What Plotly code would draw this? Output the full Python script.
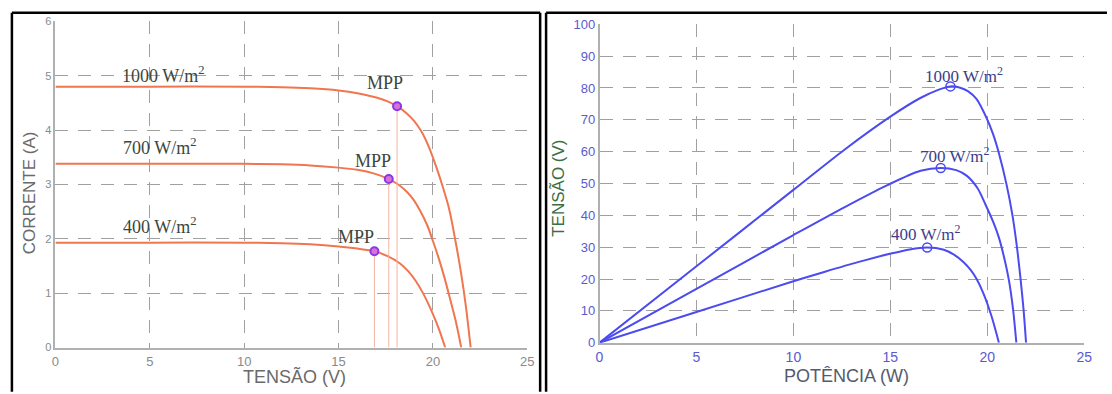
import plotly.graph_objects as go

# ---------------- data ----------------
# Left panel: I-V curves (TENSÃO V, CORRENTE A)
iv_v_1000 = [0, 5, 10, 12, 13.5, 15, 16, 17, 17.6, 18.1, 18.6, 19.0, 19.4, 19.8, 20.2, 20.5, 20.86, 21.2, 21.5, 21.75, 22.0]
iv_i_1000 = [4.8, 4.8, 4.8, 4.79, 4.77, 4.73, 4.68, 4.6, 4.53, 4.44, 4.31, 4.17, 3.97, 3.68, 3.3, 2.98, 2.55, 1.95, 1.35, 0.75, 0.0]
iv_v_700 = [0, 5, 10, 12, 13.5, 15, 16, 16.9, 17.66, 18.2, 18.6, 18.95, 19.3, 19.7, 20.0, 20.3, 20.6, 20.86, 21.2, 21.5]
iv_i_700 = [3.38, 3.38, 3.38, 3.37, 3.35, 3.31, 3.27, 3.2, 3.10, 2.99, 2.87, 2.73, 2.53, 2.25, 1.96, 1.65, 1.3, 0.96, 0.5, 0.0]
iv_v_400 = [0, 5, 10, 12, 13.5, 15, 16, 16.9, 17.6, 18.24, 18.7, 19.1, 19.46, 19.8, 20.16, 20.4, 20.65]
iv_i_400 = [1.93, 1.93, 1.93, 1.92, 1.9, 1.86, 1.82, 1.77, 1.68, 1.55, 1.4, 1.22, 1.01, 0.77, 0.48, 0.26, 0.0]

mpp_iv_v = [18.1, 17.66, 16.9]
mpp_iv_i = [4.44, 3.10, 1.77]

# Right panel: P-V curves (x: POTÊNCIA (W) label, y: TENSÃO (V) label)
pv_x_1000 = [0, 5, 10, 12.65, 15, 16.5, 17.5, 18.1, 18.6, 19.0, 19.45, 19.97, 20.3, 20.6, 21.0, 21.3, 21.5, 21.7, 21.87, 22.0]
pv_y_1000 = [0, 24, 48, 60.7, 71, 76.7, 79.5, 80.5, 80.1, 79, 76.5, 70.5, 65.5, 59.5, 49.5, 40, 31.5, 21, 10.5, 0]
pv_x_700 = [0, 5, 10, 12.65, 14.85, 16.56, 17.6, 18.4, 18.95, 19.5, 19.9, 20.3, 20.6, 20.86, 21.12, 21.33, 21.5]
pv_y_700 = [0, 16.9, 33.8, 42.6, 49.5, 54, 54.9, 54.2, 52.4, 48.5, 43.5, 38, 33, 27, 19.5, 10.5, 0]
pv_x_400 = [0, 5, 10, 11.63, 13.33, 15.03, 16.0, 16.9, 17.76, 18.3, 18.78, 19.15, 19.45, 19.8, 20.22, 20.6]
pv_y_400 = [0, 9.65, 19.3, 22.3, 25.3, 28.0, 29.3, 29.9, 29.2, 27.6, 25.3, 22.8, 20, 15.5, 8.3, 0]

mpp_pv_x = [18.1, 17.6, 16.9]
mpp_pv_y = [80.5, 54.9, 29.9]

irr_labels = ["1000 W/m<sup>2</sup>", "700 W/m<sup>2</sup>", "400 W/m<sup>2</sup>"]
iv_label_x = [5.7, 5.5, 5.5]
iv_label_y = [5.03, 3.7, 2.25]
mpp_label_x = [17.45, 16.8, 15.9]
mpp_label_y = [4.86, 3.44, 2.04]
pv_label_x = [18.8, 18.3, 16.8]
pv_label_y = [84, 59, 34.5]

# ---------------- styles ----------------
W, H = 1112, 394
ORANGE = "#f07650"
VLINE = "#f6b4a4"
BLUE = "#4b4bf0"
GRID = "#a0a0a0"

def px_x(p):
    return p / W

def px_y(p):
    return 1 - p / H

fig = go.Figure()

# left curves
for v, i in [(iv_v_1000, iv_i_1000), (iv_v_700, iv_i_700), (iv_v_400, iv_i_400)]:
    fig.add_trace(go.Scatter(x=v, y=i, mode="lines", line=dict(color=ORANGE, width=2, shape="spline", smoothing=0.8),
                             xaxis="x", yaxis="y", showlegend=False, hoverinfo="skip"))
for v, i in zip(mpp_iv_v, mpp_iv_i):
    fig.add_trace(go.Scatter(x=[v, v], y=[0, i], mode="lines", line=dict(color=VLINE, width=1),
                             xaxis="x", yaxis="y", showlegend=False, hoverinfo="skip"))
fig.add_trace(go.Scatter(x=mpp_iv_v, y=mpp_iv_i, mode="markers",
                         marker=dict(symbol="circle", size=8, color="#d673d8", line=dict(color="#8a36e8", width=2)),
                         xaxis="x", yaxis="y", showlegend=False))

# right curves
for x, y in [(pv_x_1000, pv_y_1000), (pv_x_700, pv_y_700), (pv_x_400, pv_y_400)]:
    fig.add_trace(go.Scatter(x=x, y=y, mode="lines", line=dict(color=BLUE, width=2, shape="spline", smoothing=0.8),
                             xaxis="x2", yaxis="y2", showlegend=False, hoverinfo="skip"))
fig.add_trace(go.Scatter(x=mpp_pv_x, y=mpp_pv_y, mode="markers",
                         marker=dict(symbol="circle-open", size=9, color=BLUE, line=dict(color=BLUE, width=1.5)),
                         xaxis="x2", yaxis="y2", showlegend=False))

ax_common = dict(showgrid=True, gridcolor=GRID, griddash="13px,10px", gridwidth=1,
                 zeroline=False, showline=True, linecolor="#b0b0b0", linewidth=1.5,
                 ticks="", mirror=False, fixedrange=True)

fig.update_layout(
    width=W, height=H, margin=dict(l=0, r=0, t=0, b=0),
    paper_bgcolor="white", plot_bgcolor="white",
    xaxis=dict(domain=[px_x(52), px_x(529)], range=[0, 25], dtick=5, anchor="y", ticklabelstandoff=1,
               tickfont=dict(family="Liberation Sans", size=13, color="#8a8a8a"), **ax_common),
    yaxis=dict(domain=[px_y(354), px_y(15)], range=[0, 6], dtick=1, anchor="x",
               tickfont=dict(family="Liberation Sans", size=11, color="#8a8a8a"), **ax_common),
    xaxis2=dict(domain=[px_x(602), px_x(1092)], range=[0, 25], dtick=5, anchor="y2", ticklabelstandoff=1,
                tickfont=dict(family="Liberation Sans", size=14, color="#5a5ad0"), **ax_common),
    yaxis2=dict(domain=[px_y(349), px_y(18)], range=[0, 100], dtick=10, anchor="x2",
                tickfont=dict(family="Liberation Sans", size=13, color="#5a5ad0"), **ax_common),
)

annotations = []
for t, x, y in zip(irr_labels, iv_label_x, iv_label_y):
    annotations.append(dict(text=t, x=x, y=y, xref="x", yref="y", showarrow=False,
                            xanchor="center", yanchor="middle",
                            font=dict(family="Liberation Serif", size=18, color="#3c463c")))
for x, y in zip(mpp_label_x, mpp_label_y):
    annotations.append(dict(text="MPP", x=x, y=y, xref="x", yref="y", showarrow=False,
                            xanchor="center", yanchor="middle",
                            font=dict(family="Liberation Serif", size=18, color="#3c463c")))
for t, x, y in zip(irr_labels, pv_label_x, pv_label_y):
    annotations.append(dict(text=t, x=x, y=y, xref="x2", yref="y2", showarrow=False,
                            xanchor="center", yanchor="middle",
                            font=dict(family="Liberation Serif", size=17, color="#3d3d8c")))

# axis titles
annotations += [
    dict(text="TENSÃO (V)", x=px_x(294), y=px_y(384), xref="paper", yref="paper", showarrow=False,
         xanchor="center", yanchor="middle",
         font=dict(family="Liberation Sans", size=18, color="#6a6a6a")),
    dict(text="CORRENTE (A)", x=px_x(26), y=px_y(193), xref="paper", yref="paper", showarrow=False,
         xanchor="center", yanchor="middle",
         textangle=-90, font=dict(family="Liberation Sans", size=17, color="#6a6a6a")),
    dict(text="POTÊNCIA (W)", x=px_x(852), y=px_y(384), xref="paper", yref="paper", showarrow=False,
         xanchor="center", yanchor="middle",
         font=dict(family="Liberation Sans", size=18, color="#555a70")),
    dict(text="TENSÃO (V)", x=px_x(561), y=px_y(188), xref="paper", yref="paper", showarrow=False,
         xanchor="center", yanchor="middle",
         textangle=-90, font=dict(family="Liberation Sans", size=17, color="#3a6e44")),
]
fig.update_layout(annotations=annotations)

# panel borders
bl = dict(color="black", width=2.5)
shapes = [
    dict(type="line", xref="paper", yref="paper", x0=px_x(8), x1=px_x(8), y0=px_y(6), y1=px_y(400), line=bl),
    dict(type="line", xref="paper", yref="paper", x0=px_x(8), x1=px_x(542), y0=px_y(6), y1=px_y(6), line=bl),
    dict(type="line", xref="paper", yref="paper", x0=px_x(542), x1=px_x(542), y0=px_y(6), y1=px_y(400), line=bl),
    dict(type="line", xref="paper", yref="paper", x0=px_x(548), x1=px_x(548), y0=px_y(6), y1=px_y(400), line=bl),
    dict(type="line", xref="paper", yref="paper", x0=px_x(548), x1=px_x(1115), y0=px_y(6), y1=px_y(6), line=bl),
]
fig.update_layout(shapes=shapes)

fig.write_html("out.html")
